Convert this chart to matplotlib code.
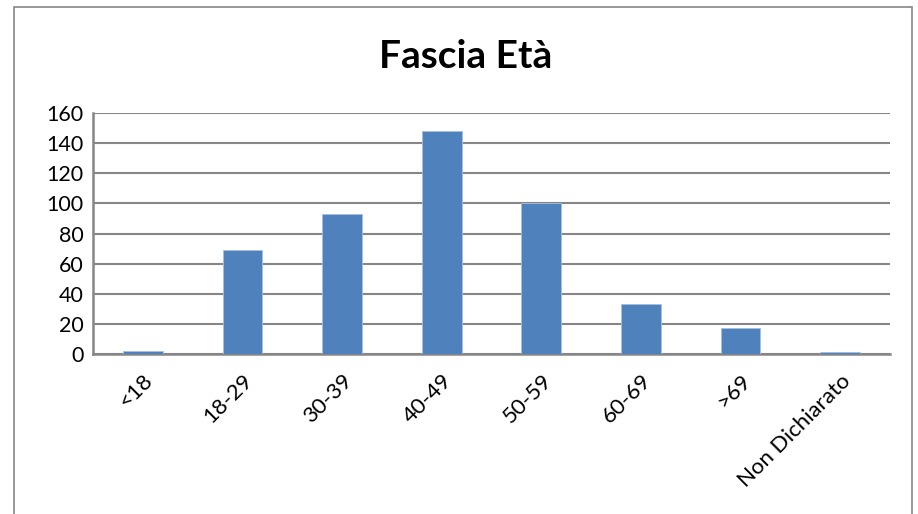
import matplotlib
matplotlib.use("Agg")
import matplotlib.pyplot as plt
from matplotlib.patches import Rectangle

categories = ["<18", "18-29", "30-39", "40-49", "50-59", "60-69", ">69", "Non Dichiarato"]
values = [2, 69, 93, 148, 100, 33, 17, 1]
yticks = [0, 20, 40, 60, 80, 100, 120, 140, 160]
title = "Fascia Età"

plt.rcParams['font.family'] = ['Lato', 'DejaVu Sans']

fig = plt.figure(figsize=(9.18, 5.14), dpi=100)
fig.patch.set_facecolor("white")
fig.add_artist(Rectangle((14/918, -0.1), (912-14)/918, 1.1 - 7/514,
                         transform=fig.transFigure, fill=False,
                         edgecolor="#868686", linewidth=1.2))

ax = fig.add_axes([93/918, 1 - 354/514, (890 - 93)/918, (354 - 113)/514])
x = list(range(len(categories)))
ax.bar(x, values, width=0.4, color="#4F81BD", edgecolor="#A7C0DE", linewidth=0.6, zorder=3)
ax.set_xlim(-0.5, len(categories) - 0.5)
ax.set_ylim(0, 160)
ax.set_yticks(yticks)
ax.set_yticklabels([str(v) for v in yticks], fontsize=15.5)
ax.set_xticks(x)
ax.set_xticklabels(categories, rotation=45, ha="right", rotation_mode="anchor", fontsize=16)
ax.tick_params(axis="both", length=0, pad=7)
ax.tick_params(axis="x", pad=12)
ax.grid(axis="y", color="#868686", linewidth=1.5, zorder=0)
for s in ["top", "right"]:
    ax.spines[s].set_visible(False)
for s in ["left", "bottom"]:
    ax.spines[s].set_color("#868686")
    ax.spines[s].set_linewidth(1.8)

fig.text(466/918, 1 - 57/514, title, ha="center", va="center", fontsize=28, fontweight="bold")

fig.savefig("out.png", dpi=100)
